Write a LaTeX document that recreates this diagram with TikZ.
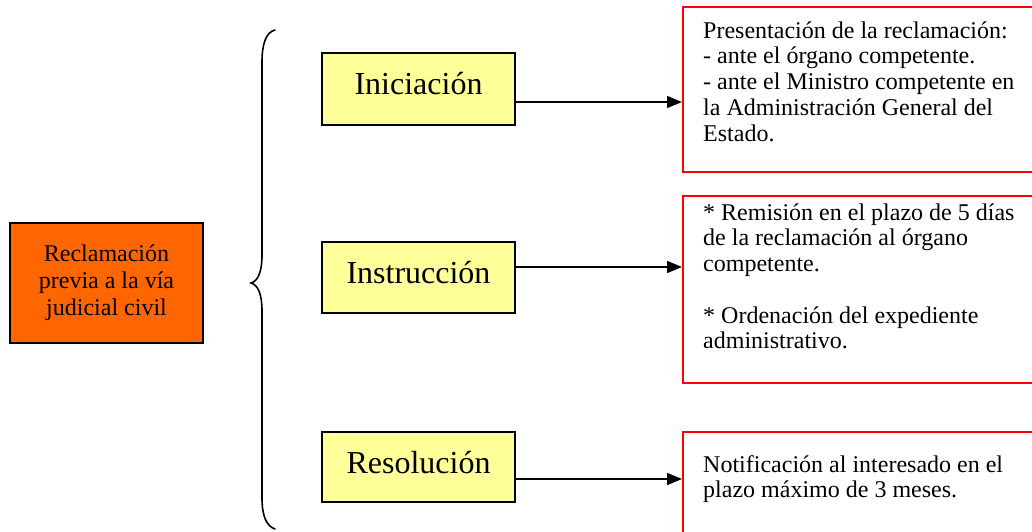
\documentclass[tikz,border=0pt]{standalone}
\usepackage{fontspec}
\setmainfont{Liberation Serif}
\usetikzlibrary{arrows.meta}
\definecolor{orangebox}{HTML}{FF6600}
\definecolor{yellowbox}{HTML}{FFFF99}
\definecolor{redline}{HTML}{FF0000}
\tikzset{
  ybox/.style={draw=black, line width=2pt, fill=yellowbox, minimum width=193pt, inner sep=0pt,
    font=\fontsize{32}{36}\selectfont, text height=22pt, text depth=10pt},
  obox/.style={draw=black, line width=2pt, fill=orangebox, minimum width=193pt, minimum height=120pt,
    inner sep=0pt, align=center, font=\fontsize{24}{27}\selectfont},
  rbox/.style={draw=redline, line width=2pt, fill=white, minimum width=362pt, inner sep=0pt},
  rtext/.style={anchor=north west, inner sep=0pt, align=left, font=\fontsize{24}{25.7}\selectfont},
  arr/.style={line width=1.6pt, -{Triangle[length=15pt,width=12pt]}},
  bracestyle/.style={line width=1.6pt, line cap=round}
}
\begin{document}
\begin{tikzpicture}[x=1pt,y=-1pt]
\clip (0,0) rectangle (1032,532);
\fill[white] (0,0) rectangle (1032,532);
% left box
\node[obox] (o) at (106.5,283) {Reclamación\\previa a la vía\\judicial civil};
% brace
\draw[bracestyle] (275,30) .. controls (266,32) and (262,44) .. (262,62) -- (262,255)
  .. controls (262,272) and (258,281) .. (251,283)
  .. controls (258,285) and (262,294) .. (262,311) -- (262,498)
  .. controls (262,515) and (266,526) .. (275,529);
% yellow boxes
\node[ybox, minimum height=72pt] (y1) at (418.5,89) {Iniciación};
\node[ybox, minimum height=71pt] (y2) at (418.5,277.5) {Instrucción};
\node[ybox, minimum height=70pt] (y3) at (418.5,467) {Resolución};
% red boxes
\node[rbox, minimum height=165pt] (r1) at (864,89.5) {};
\node[rbox, minimum height=187pt] (r2) at (864,289.5) {};
\node[rbox, minimum height=113pt] (r3) at (864,488.5) {};
\node[rtext] (t1) at (703,18) {\rule{0pt}{20pt}Presentación de la reclamación:\\- ante el órgano competente.\\- ante el Ministro competente en\\la Administración General del\\Estado.};
\node[rtext] (t2) at (703,200) {\rule{0pt}{20pt}* Remisión en el plazo de 5 días\\de la reclamación al órgano\\competente.\\[25.7pt]* Ordenación del expediente\\administrativo.};
\node[rtext] (t3) at (703,452) {\rule{0pt}{20pt}Notificación al interesado en el\\plazo máximo de 3 meses.};
% arrows
\coordinate (a1) at (600,102);
\coordinate (a2) at (600,267);
\coordinate (a3) at (600,479);
\draw[arr] (y1.east |- a1) -- (r1.west |- a1);
\draw[arr] (y2.east |- a2) -- (r2.west |- a2);
\draw[arr] (y3.east |- a3) -- (r3.west |- a3);
\end{tikzpicture}
\end{document}
